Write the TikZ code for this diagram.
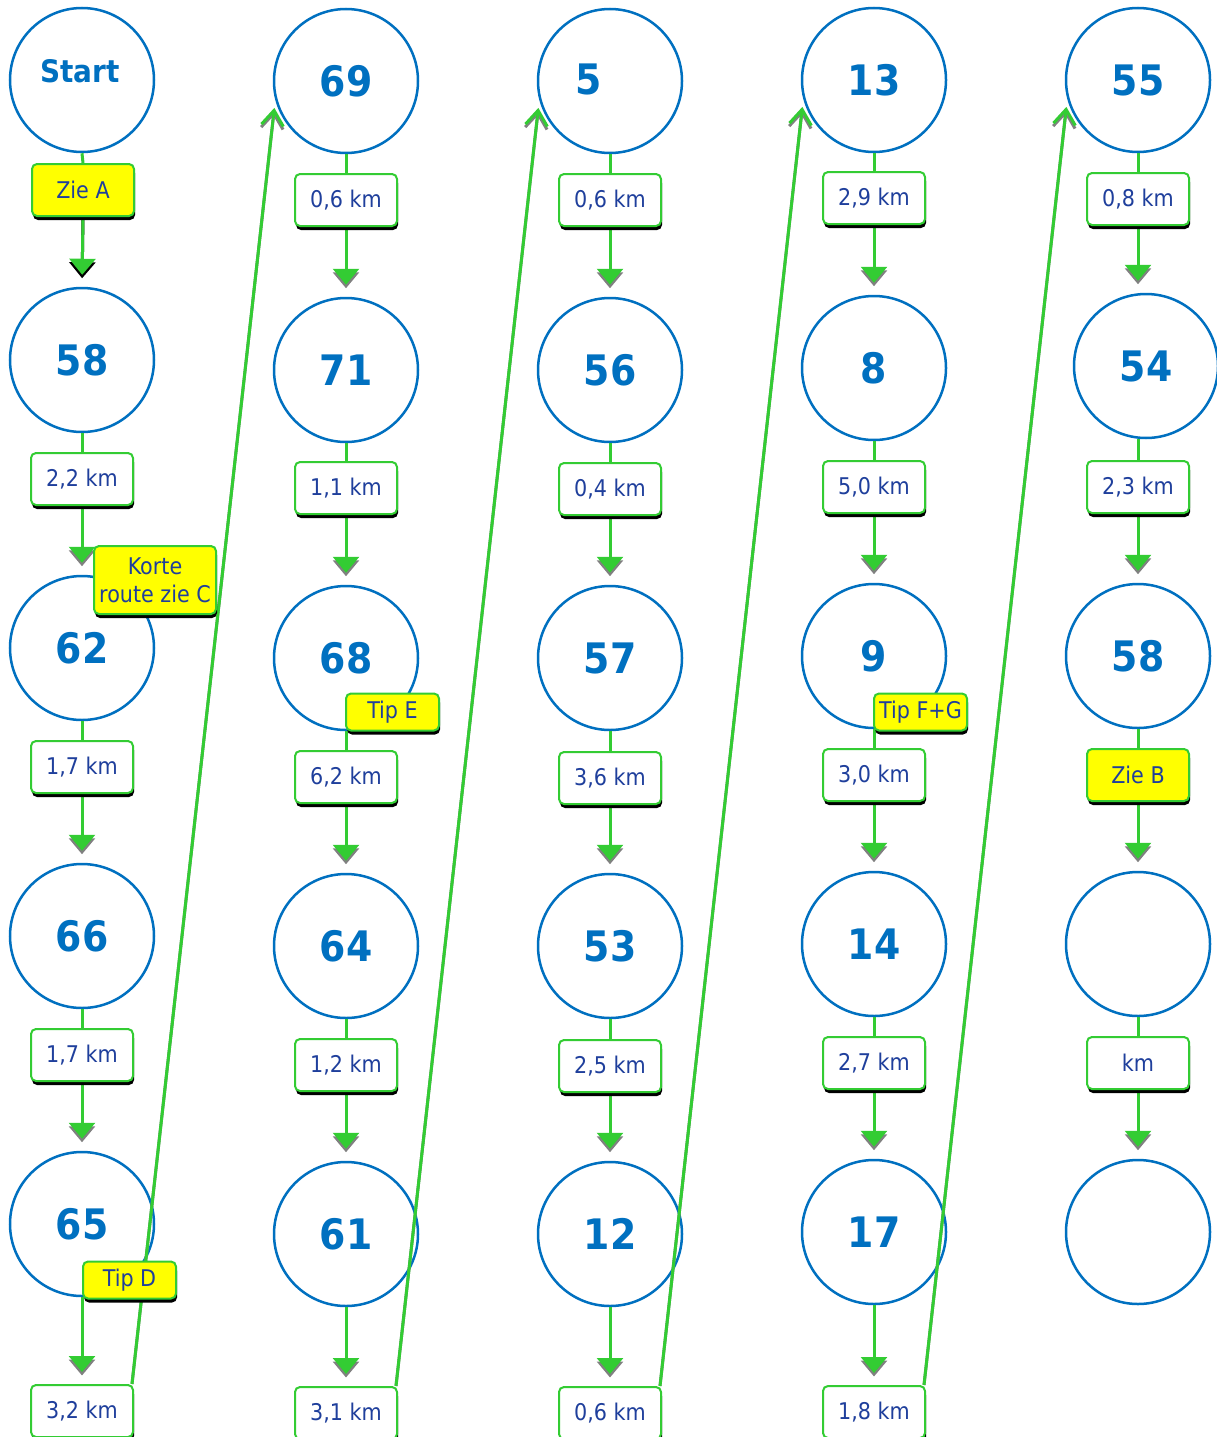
\documentclass[tikz,border=0pt]{standalone}
\usepackage{fontspec}
\setmainfont{DejaVu Sans Condensed}
\usetikzlibrary{arrows.meta, shadows}

\definecolor{ringblue}{RGB}{0,112,192}
\definecolor{wiregreen}{RGB}{51,204,51}
\definecolor{legblue}{RGB}{31,63,156}
\definecolor{hintyellow}{RGB}{255,255,0}

\pgfdeclarelayer{front}
\pgfsetlayers{main,front}

\begin{document}
\begin{tikzpicture}[
  x=1pt, y=-1pt,
  numtext/.style = {text=ringblue, font=\fontsize{42}{42}\selectfont\bfseries},
  spot/.style    = {circle, draw=ringblue, line width=2.5pt, fill=white,
                    minimum size=144pt, inner sep=0pt, numtext},
  leg/.style     = {rectangle, rounded corners=5pt, draw=wiregreen, line width=2pt,
                    fill=white, minimum width=102pt, minimum height=52pt,
                    inner sep=2pt, align=center, text=legblue,
                    font=\fontsize{23}{28}\selectfont,
                    drop shadow={shadow xshift=1pt, shadow yshift=-4pt,
                                 opacity=1, fill=black}},
  hint/.style    = {leg, fill=hintyellow},
  tiptag/.style  = {hint, minimum width=93pt, minimum height=37pt},
  wire/.style    = {line width=3pt, draw=wiregreen},
  arrow/.style   = {wire, -{Triangle[width=26pt, length=16pt]}, shorten >=12pt},
  tipshade/.style = {arrow, draw=gray, shorten >=8.5pt},
  jump/.style    = {wire, -{Straight Barb[width=22pt, length=15pt]}, shorten >=8pt},
  jumpshade/.style = {jump, draw=gray, shorten >=11pt},
]
  \useasboundingbox (0,0) rectangle (1216,1437);

  % stops
  \node[spot, label={[numtext, font=\fontsize{31}{31}\selectfont\bfseries,
        xshift=-2pt, yshift=8.5pt]center:Start}] (start) at (82,80) {};
  \node[spot] (p58)  at (82,360)  {58};
  \node[spot] (p62)  at (82,648)  {62};
  \node[spot] (p66)  at (82,936)  {66};
  \node[spot] (p65)  at (82,1224) {65};

  \node[spot] (p69)  at (346,81)   {69};
  \node[spot] (p71)  at (346,370)  {71};
  \node[spot] (p68)  at (346,658)  {68};
  \node[spot] (p64)  at (346,946)  {64};
  \node[spot] (p61)  at (346,1234) {61};

  \node[spot, label={[numtext, xshift=-21.5pt, yshift=2pt]center:5}] (p5) at (610,81) {};
  \node[spot] (p56)  at (610,370)  {56};
  \node[spot] (p57)  at (610,658)  {57};
  \node[spot] (p53)  at (610,946)  {53};
  \node[spot] (p12)  at (610,1234) {12};

  \node[spot] (p13)  at (874,80)   {13};
  \node[spot] (p8)   at (874,368)  {8};
  \node[spot] (p9)   at (874,656)  {9};
  \node[spot] (p14)  at (874,944)  {14};
  \node[spot] (p17)  at (874,1232) {17};

  \node[spot] (p55)  at (1138,80)  {55};
  \node[spot] (p54)  at (1146,366) {54};
  \node[spot] (p58b) at (1138,656) {58};
  \node[spot] (pend) at (1138,944) {};
  \node[spot] (plast) at (1138,1232) {};

  % legs and hints
  \begin{pgfonlayer}{front}
    \node[hint] (zieA) at (83,190)   {Zie A};
    \node[leg]  (k58)  at (82,479)   {2,2 km};
    \node[leg]  (k62)  at (82,767)   {1,7 km};
    \node[leg]  (k66)  at (82,1055)  {1,7 km};
    \node[leg]  (k65)  at (82,1411)  {3,2 km};

    \node[leg]  (k69)  at (346,200)  {0,6 km};
    \node[leg]  (k71)  at (346,488)  {1,1 km};
    \node[leg]  (k68)  at (346,777)  {6,2 km};
    \node[leg]  (k64)  at (346,1065) {1,2 km};
    \node[leg]  (k61)  at (346,1413) {3,1 km};

    \node[leg]  (k5)   at (610,200)  {0,6 km};
    \node[leg]  (k56)  at (610,489)  {0,4 km};
    \node[leg]  (k57)  at (610,778)  {3,6 km};
    \node[leg]  (k53)  at (610,1066) {2,5 km};
    \node[leg]  (k12)  at (610,1413) {0,6 km};

    \node[leg]  (k13)  at (874,198)  {2,9 km};
    \node[leg]  (k8)   at (874,487)  {5,0 km};
    \node[leg]  (k9)   at (874,775)  {3,0 km};
    \node[leg]  (k14)  at (874,1063) {2,7 km};
    \node[leg]  (k17)  at (874,1412) {1,8 km};

    \node[leg]  (k55)  at (1138,199)  {0,8 km};
    \node[leg]  (k54)  at (1138,487)  {2,3 km};
    \node[hint] (zieB) at (1138,775)  {Zie B};
    \node[leg]  (kend) at (1138,1063) {km};

    \node[hint, minimum width=122pt, minimum height=68pt] (korte) at (155,580)
         {Korte\\route zie C};
    \node[tiptag] (tipD)  at (129.5,1280) {Tip D};
    \node[tiptag] (tipE)  at (392.5,712)  {Tip E};
    \node[tiptag] (tipFG) at (920.5,712)  {Tip F+G};
  \end{pgfonlayer}

  % column 1
  \draw[wire] (start.south) -- (zieA.north);
  \draw[tipshade, draw=black] (zieA.south) -- (p58.north);
  \draw[arrow] (zieA.south) -- (p58.north);
  \draw[wire] (p58.south) -- (k58.north);
  \draw[tipshade] (k58.south) -- (p62.north);  \draw[arrow] (k58.south) -- (p62.north);
  \draw[wire] (p62.south) -- (k62.north);
  \draw[tipshade] (k62.south) -- (p66.north);  \draw[arrow] (k62.south) -- (p66.north);
  \draw[wire] (p66.south) -- (k66.north);
  \draw[tipshade] (k66.south) -- (p65.north);  \draw[arrow] (k66.south) -- (p65.north);
  \draw[tipshade] (p65.south) -- (k65.north);  \draw[arrow] (p65.south) -- (k65.north);

  % column 2
  \draw[wire] (p69.south) -- (k69.north);
  \draw[tipshade] (k69.south) -- (p71.north);  \draw[arrow] (k69.south) -- (p71.north);
  \draw[wire] (p71.south) -- (k71.north);
  \draw[tipshade] (k71.south) -- (p68.north);  \draw[arrow] (k71.south) -- (p68.north);
  \draw[wire] (p68.south) -- (k68.north);
  \draw[tipshade] (k68.south) -- (p64.north);  \draw[arrow] (k68.south) -- (p64.north);
  \draw[wire] (p64.south) -- (k64.north);
  \draw[tipshade] (k64.south) -- (p61.north);  \draw[arrow] (k64.south) -- (p61.north);
  \draw[tipshade] (p61.south) -- (k61.north);  \draw[arrow] (p61.south) -- (k61.north);

  % column 3
  \draw[wire] (p5.south) -- (k5.north);
  \draw[tipshade] (k5.south) -- (p56.north);   \draw[arrow] (k5.south) -- (p56.north);
  \draw[wire] (p56.south) -- (k56.north);
  \draw[tipshade] (k56.south) -- (p57.north);  \draw[arrow] (k56.south) -- (p57.north);
  \draw[wire] (p57.south) -- (k57.north);
  \draw[tipshade] (k57.south) -- (p53.north);  \draw[arrow] (k57.south) -- (p53.north);
  \draw[wire] (p53.south) -- (k53.north);
  \draw[tipshade] (k53.south) -- (p12.north);  \draw[arrow] (k53.south) -- (p12.north);
  \draw[tipshade] (p12.south) -- (k12.north);  \draw[arrow] (p12.south) -- (k12.north);

  % column 4
  \draw[wire] (p13.south) -- (k13.north);
  \draw[tipshade] (k13.south) -- (p8.north);   \draw[arrow] (k13.south) -- (p8.north);
  \draw[wire] (p8.south) -- (k8.north);
  \draw[tipshade] (k8.south) -- (p9.north);    \draw[arrow] (k8.south) -- (p9.north);
  \draw[wire] (p9.south) -- (k9.north);
  \draw[tipshade] (k9.south) -- (p14.north);   \draw[arrow] (k9.south) -- (p14.north);
  \draw[wire] (p14.south) -- (k14.north);
  \draw[tipshade] (k14.south) -- (p17.north);  \draw[arrow] (k14.south) -- (p17.north);
  \draw[tipshade] (p17.south) -- (k17.north);  \draw[arrow] (p17.south) -- (k17.north);

  % column 5
  \draw[wire] (p55.south) -- (k55.north);
  \draw[tipshade] (k55.south) -- (k55.south |- p54.north);
  \draw[arrow] (k55.south) -- (k55.south |- p54.north);
  \draw[wire] (k54.north |- p54.south) -- (k54.north);
  \draw[tipshade] (k54.south) -- (p58b.north); \draw[arrow] (k54.south) -- (p58b.north);
  \draw[wire] (p58b.south) -- (zieB.north);
  \draw[tipshade] (zieB.south) -- (pend.north); \draw[arrow] (zieB.south) -- (pend.north);
  \draw[wire] (pend.south) -- (kend.north);
  \draw[tipshade] (kend.south) -- (plast.north); \draw[arrow] (kend.south) -- (plast.north);

  % jumps to the next column
  \draw[jumpshade] ([xshift=-2pt]k65.north east) -- (p69.195);
  \draw[jump] ([xshift=-2pt]k65.north east) -- (p69.195);
  \draw[jumpshade] ([xshift=-2pt]k61.north east) -- (p5.195);
  \draw[jump] ([xshift=-2pt]k61.north east) -- (p5.195);
  \draw[jumpshade] ([xshift=-2pt]k12.north east) -- (p13.195);
  \draw[jump] ([xshift=-2pt]k12.north east) -- (p13.195);
  \draw[jumpshade] ([xshift=-2pt]k17.north east) -- (p55.195);
  \draw[jump] ([xshift=-2pt]k17.north east) -- (p55.195);
\end{tikzpicture}
\end{document}
